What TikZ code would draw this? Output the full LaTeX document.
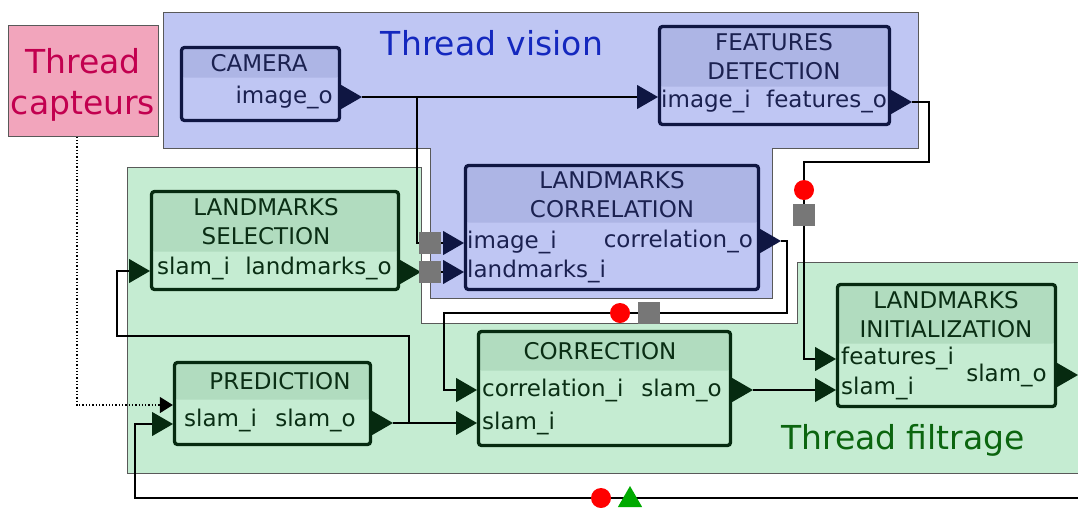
\documentclass[tikz,border=0pt]{standalone}
\usepackage{fontspec}
\setmainfont{DejaVu Sans}
\usetikzlibrary{arrows.meta,shapes.geometric,calc}

\definecolor{visfill}{HTML}{BFC6F3}
\definecolor{vishead}{HTML}{ADB5E5}
\definecolor{visline}{HTML}{0F1642}
\definecolor{vistext}{HTML}{1B2150}
\definecolor{filfill}{HTML}{C5ECD2}
\definecolor{filhead}{HTML}{B1DCBF}
\definecolor{filline}{HTML}{062A10}
\definecolor{filtext}{HTML}{0A2E14}
\definecolor{capfill}{HTML}{F2A5BC}
\definecolor{captext}{HTML}{C2004F}
\definecolor{vislabel}{HTML}{1428BE}
\definecolor{fillabel}{HTML}{0B650F}
\definecolor{sqgray}{HTML}{777777}
\definecolor{dotred}{HTML}{FF0000}
\definecolor{trigreen}{HTML}{00AA00}

\tikzset{
  region/.style={draw=black!65, line width=1pt},
  conn/.style={draw=black, line width=2.2pt},
  vblk/.style={draw=visline, fill=visfill, line width=3.3pt, rounded corners=3pt, inner sep=0pt,
    path picture={\fill[vishead] (path picture bounding box.north west) rectangle ([yshift=-#1pt]path picture bounding box.north east);}},
  fblk/.style={draw=filline, fill=filfill, line width=3.3pt, rounded corners=3pt, inner sep=0pt,
    path picture={\fill[filhead] (path picture bounding box.north west) rectangle ([yshift=-#1pt]path picture bounding box.north east);}},
  vtitle/.style={text=vistext, font=\fontsize{23pt}{29pt}\selectfont, align=center, inner sep=0pt},
  ftitle/.style={text=filtext, font=\fontsize{23pt}{29pt}\selectfont, align=center, inner sep=0pt},
  vport/.style={text=vistext, font=\fontsize{23pt}{29pt}\selectfont, inner sep=0pt},
  fport/.style={text=filtext, font=\fontsize{23pt}{29pt}\selectfont, inner sep=0pt},
  vpin/.style={regular polygon, regular polygon sides=3, shape border rotate=-90, fill=visline, inner sep=0pt, minimum size=28pt},
  fpin/.style={regular polygon, regular polygon sides=3, shape border rotate=-90, fill=filline, inner sep=0pt, minimum size=28pt},
  gsq/.style={fill=sqgray, inner sep=0pt, minimum size=22pt},
  rdot/.style={circle, fill=dotred, inner sep=0pt, minimum size=20pt},
}

\begin{document}
\begin{tikzpicture}[x=1pt, y=-1pt]
    \useasboundingbox (0,0) rectangle (1078,507);

    % === Threads ===
    \draw[region, fill=visfill] (163,12) -- (918,12) -- (918,148) -- (772,148) -- (772,298)
        -- (430,298) -- (430,148) -- (163,148) -- cycle;
    \draw[region, fill=filfill] (127,167) -- (421,167) -- (421,323) -- (797,323) -- (797,262)
        -- (1090,262) -- (1090,473) -- (127,473) -- cycle;
    \node[region, fill=capfill, minimum width=150pt, minimum height=111pt] (capt) at (83,80.5) {};
    \node[text=captext, align=center, font=\fontsize{33pt}{41pt}\selectfont] (capt-t) at (83,85) {Thread\\capteurs};
    \node[text=vislabel, font=\fontsize{33pt}{40pt}\selectfont] (vislbl) at (492,43) {Thread vision};
    \node[text=fillabel, font=\fontsize{33pt}{40pt}\selectfont] (fillbl) at (903,440) {Thread filtrage};

    % === Thread vision: blocs ===
    \node[vblk=30, minimum width=158pt, minimum height=73pt] (cam) at (260.5,84) {};
    \node[vtitle] (cam-t) at (259,63) {CAMERA};
    \node[vport, anchor=mid east] (cam-p) at (333,101) {image\_o};

    \node[vblk=60, minimum width=230pt, minimum height=98pt] (fd) at (774.5,75.5) {};
    \node[vtitle] (fd-t) at (774,56.5) {FEATURES\\DETECTION};
    \node[vport, anchor=mid west] (fd-p1) at (661,105) {image\_i};
    \node[vport, anchor=mid east] (fd-p2) at (887,105) {features\_o};

    \node[vblk=57, minimum width=293pt, minimum height=124pt] (lc) at (612,227.5) {};
    \node[vtitle] (lc-t) at (612,194.5) {LANDMARKS\\CORRELATION};
    \node[vport, anchor=mid west] (lc-p1) at (467,246) {image\_i};
    \node[vport, anchor=mid west] (lc-p2) at (467,275) {landmarks\_i};
    \node[vport, anchor=mid east] (lc-p3) at (753,245) {correlation\_o};

    % === Thread filtrage: blocs ===
    \node[fblk=60, minimum width=247pt, minimum height=98pt] (ls) at (275,240.5) {};
    \node[ftitle] (ls-t) at (266,222) {LANDMARKS\\SELECTION};
    \node[fport, anchor=mid west] (ls-p1) at (157,272) {slam\_i};
    \node[fport, anchor=mid east] (ls-p2) at (392,272) {landmarks\_o};

    \node[fblk=37, minimum width=196pt, minimum height=82pt] (pr) at (272.5,403.5) {};
    \node[ftitle] (pr-t) at (280,381) {PREDICTION};
    \node[fport, anchor=mid west] (pr-p1) at (184,424) {slam\_i};
    \node[fport, anchor=mid east] (pr-p2) at (356,424) {slam\_o};

    \node[fblk=39, minimum width=252pt, minimum height=114pt] (co) at (604.5,388.5) {};
    \node[ftitle] (co-t) at (600,351) {CORRECTION};
    \node[fport, anchor=mid west] (co-p1) at (482,394) {correlation\_i};
    \node[fport, anchor=mid west] (co-p2) at (482,427) {slam\_i};
    \node[fport, anchor=mid east] (co-p3) at (722,394) {slam\_o};

    \node[fblk=59, minimum width=218pt, minimum height=122pt] (li) at (946.5,345.5) {};
    \node[ftitle] (li-t) at (946,314.5) {LANDMARKS\\INITIALIZATION};
    \node[fport, anchor=mid west] (li-p1) at (841,362) {features\_i};
    \node[fport, anchor=mid west] (li-p2) at (841,392) {slam\_i};
    \node[fport, anchor=mid east] (li-p3) at (1047,379) {slam\_o};

    % ports
    \node[vpin] (cam-o) at (348,97) {};
    \node[vpin] (fd-i) at (644,97) {};
    \node[vpin] (fd-o) at (898,102) {};
    \node[vpin] (lc-i1) at (450,243) {};
    \node[vpin] (lc-i2) at (450,272) {};
    \node[vpin] (lc-o) at (767,241) {};
    \node[fpin] (ls-i) at (136,271) {};
    \node[fpin] (ls-o) at (407,272) {};
    \node[fpin] (pr-i) at (159,424) {};
    \node[fpin] (pr-o) at (379,423) {};
    \node[fpin] (co-i1) at (463,390) {};
    \node[fpin] (co-i2) at (463,423) {};
    \node[fpin] (co-o) at (739,390) {};
    \node[fpin] (li-i1) at (822,359) {};
    \node[fpin] (li-i2) at (822,390) {};
    \node[fpin] (li-o) at (1064,375) {};

    % === Connexions ===
    \coordinate (split) at (417,97);
    \coordinate (ctop) at (787,313);
    \coordinate (cdrop) at (444,313);
    \coordinate (ftop) at (929,162);
    \coordinate (fdrop) at (804,162);
    \coordinate (psplit) at (409,423);
    \coordinate (pturn) at (117,336);
    \coordinate (loopr) at (1095,498);
    \coordinate (loopl) at (135,498);

    \draw[conn] (cam-o.east) -- (fd-i.west);
    \draw[conn] (split) |- (lc-i1.west);
    \draw[conn] (ls-o.east) -- (lc-i2.west);
    \draw[conn] (lc-o.east) -| (ctop) -- (cdrop) |- (co-i1.west);
    \draw[conn] (fd-o.east) -| (ftop) -- (fdrop) |- (li-i1.west);
    \draw[conn] (co-o.east) -- (li-i2.west);
    \draw[conn] (pr-o.east) -- (co-i2.west);
    \draw[conn] (psplit) |- (pturn) |- (ls-i.west);
    \draw[conn] (li-o.east) -| (loopr) -- (loopl) |- (pr-i.west);
    \draw[line width=1.3pt, dotted, -{Triangle[length=13pt,width=16pt]}]
        ([xshift=-6pt]capt.south) |- ([yshift=-1.5pt]pr.west);

    % gates
    \node[gsq] (sq1) at (430,243) {};
    \node[gsq] (sq2) at (430,272) {};
    \node[gsq] (sq3) at (649,313) {};
    \node[gsq] (sq4) at (804,215) {};
    \node[rdot] (dot1) at (620,313) {};
    \node[rdot] (dot2) at (804,190) {};
    \node[rdot] (dot3) at (601,498) {};
    \node[regular polygon, regular polygon sides=3, fill=trigreen, inner sep=0pt, minimum size=28pt] (go) at (630,500) {};
\end{tikzpicture}
\end{document}
